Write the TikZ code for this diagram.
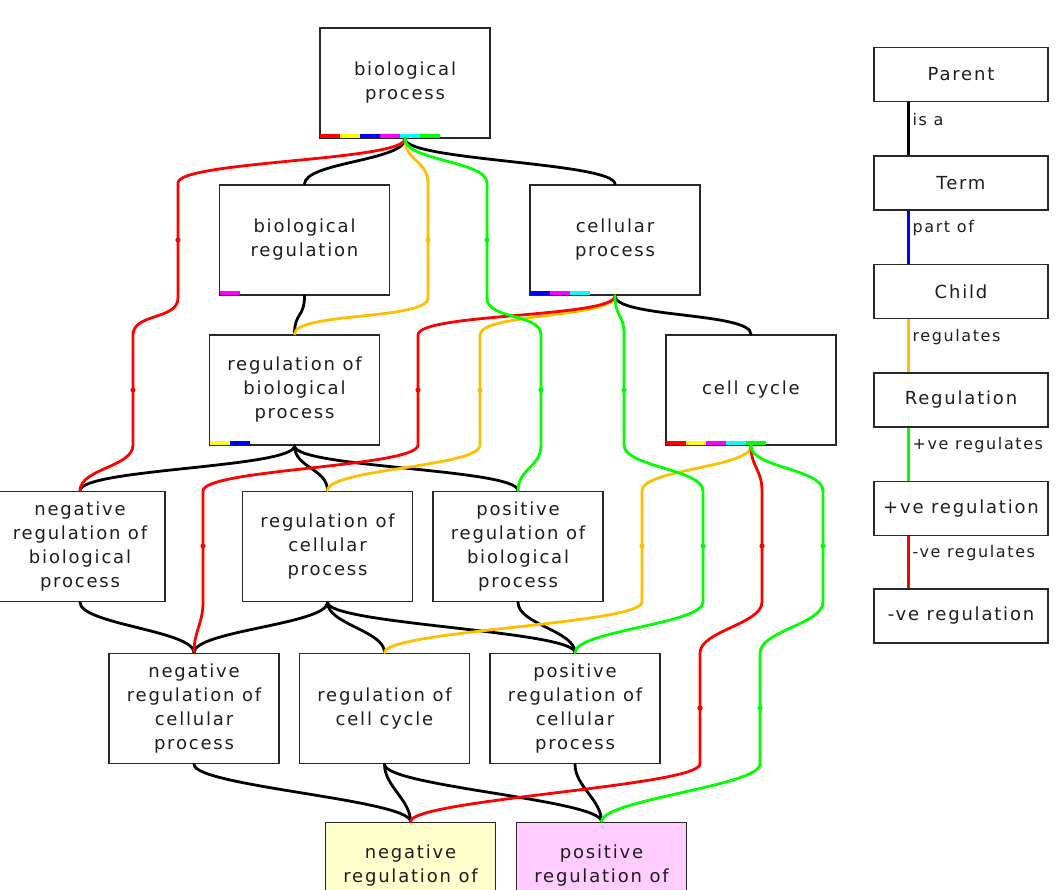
\documentclass[tikz,border=0pt]{standalone}
\usepackage{fontspec}
\setmainfont{DejaVu Sans}[LetterSpace=10]
\usetikzlibrary{calc}
\definecolor{regcol}{RGB}{255,190,0}
\definecolor{txt}{RGB}{30,30,30}
\definecolor{bord}{RGB}{40,40,40}
\definecolor{nfill}{RGB}{255,255,204}
\definecolor{pfill}{RGB}{255,204,255}
\definecolor{cR}{RGB}{255,0,0}
\definecolor{cY}{RGB}{255,255,0}
\definecolor{cB}{RGB}{0,0,255}
\definecolor{cM}{RGB}{255,0,255}
\definecolor{cC}{RGB}{0,255,255}
\definecolor{cG}{RGB}{0,255,0}
\newcommand\colbar[2]{\foreach \barcol [count=\bi from 0] in {#2} {\fill[\barcol] ($(#1.south west)+(1+20*\bi,-1)$) rectangle ++(20,-4);}}
\begin{document}
\begin{tikzpicture}[x=1pt,y=-1pt,
  term/.style={draw=bord, line width=1.6, fill=white, minimum width=170, minimum height=110, align=center, inner sep=0, text=txt, font=\fontsize{18}{24}\selectfont},
  leg/.style={term, minimum width=174, minimum height=54},
  e/.style={line width=2.8, line cap=round},
  lbl/.style={text=txt, font=\fontsize{16}{20}\selectfont, inner sep=3},
  sc/.style={to path={.. controls +(0,22) and +(0,-22) .. (\tikztotarget)}}
]
\useasboundingbox (0,0) rectangle (1057,890);
% ranks
\node[term] (bp)   at (405,83)    {biological\\process};
\node[term] (br)   at (304.5,240) {biological\\regulation};
\node[term] (cp)   at (615,240)   {cellular\\process};
\node[term] (rbp)  at (294.5,390) {regulation of\\biological\\process};
\node[term] (cc)   at (751,390)   {cell cycle};
\node[term] (nrbp) at (80,546.5)  {negative\\regulation of\\biological\\process};
\node[term] (rcp)  at (327.5,546.5) {regulation of\\cellular\\process};
\node[term] (prbp) at (518,546.5) {positive\\regulation of\\biological\\process};
\node[term] (nrcp) at (194,708.5) {negative\\regulation of\\cellular\\process};
\node[term] (rcc)  at (384.5,708.5) {regulation of\\cell cycle};
\node[term] (prcp) at (575,708.5) {positive\\regulation of\\cellular\\process};
\node[term, fill=nfill] (nrcc) at (410.5,877.5) {negative\\regulation of\\\phantom{cell cycle}};
\node[term, fill=pfill] (prcc) at (601.5,877.5) {positive\\regulation of\\\phantom{cell cycle}};
% colour bars
\colbar{bp}{cR,cY,cB,cM,cC,cG}
\colbar{br}{cM}
\colbar{cp}{cB,cM,cC}
\colbar{rbp}{cY,cB}
\colbar{cc}{cR,cY,cM,cC,cG}
% black is_a edges
\draw[e] (bp.south) to[sc] (br.north);
\draw[e] (bp.south) to[sc] (cp.north);
\draw[e] (br.south) to[sc] (rbp.north);
\draw[e] (cp.south) to[sc] (cc.north);
\draw[e] (rbp.south) to[sc] (nrbp.north);
\draw[e] (rbp.south) to[sc] (rcp.north);
\draw[e] (rbp.south) to[sc] (prbp.north);
\draw[e] (nrbp.south) to[sc] (nrcp.north);
\draw[e] (rcp.south) to[sc] (nrcp.north);
\draw[e] (rcp.south) to[sc] (rcc.north);
\draw[e] (rcp.south) to[sc] (prcp.north);
\draw[e] (prbp.south) to[sc] (prcp.north);
\draw[e] (nrcp.south) to[sc] (nrcc.north);
\draw[e] (rcc.south) to[sc] (nrcc.north);
\draw[e] (rcc.south) to[sc] (prcc.north);
\draw[e] (prcp.south) to[sc] (prcc.north);
% regulates edges
\draw[e, regcol] (bp.south) to[sc] (428,183) -- (428,298) to[sc] (rbp.north);
\draw[e, regcol] (cp.south) to[sc] (480,335) -- (480,445) to[sc] (rcp.north);
\draw[e, regcol] (cc.south) to[sc] (642,491) -- (642,602) to[sc] (rcc.north);
% negatively regulates
\draw[e, cR] (bp.south) to[sc] (178,183) -- (178,298) to[sc] (133,335) -- (133,445) to[sc] (nrbp.north);
\draw[e, cR] (cp.south) to[sc] (418,335) -- (418,445) to[sc] (203,491) -- (203,602) to[sc] (nrcp.north);
\draw[e, cR] (cc.south) to[sc] (762,491) -- (762,602) to[sc] (700,653) -- (700,764) to[sc] (nrcc.north);
% positively regulates
\draw[e, cG] (bp.south) to[sc] (487,183) -- (487,298) to[sc] (541,335) -- (541,445) to[sc] (prbp.north);
\draw[e, cG] (cp.south) to[sc] (624,335) -- (624,445) to[sc] (703,491) -- (703,602) to[sc] (prcp.north);
\draw[e, cG] (cc.south) to[sc] (823,491) -- (823,602) to[sc] (760,653) -- (760,764) to[sc] (prcc.north);
% small marks
\foreach \px/\py/\pc in {178/240/cR,133/390/cR,428/240/regcol,487/240/cG,541/390/cG,418/390/cR,203/546/cR,480/390/regcol,624/390/cG,703/546/cG,642/546/regcol,762/546/cR,700/708/cR,823/546/cG,760/708/cG}
  \fill[\pc] (\px,\py) circle (2.6);
% legend
\node[leg] (lp) at (961,74.5) {Parent};
\node[leg] (lt) at (961,183) {Term};
\node[leg] (lc) at (961,291.5) {Child};
\node[leg] (lr) at (961,400) {Regulation};
\node[leg] (lpr) at (961,508.5) {+ve regulation};
\node[leg] (lnr) at (961,616) {-ve regulation};
\draw[e, line cap=butt] ($(lp.south west)+(35,0)$) -- node[lbl, pos=0.33, right] {is a} ($(lt.north west)+(35,0)$);
\draw[e, line cap=butt, cB] ($(lt.south west)+(35,0)$) -- node[lbl, pos=0.33, right] {part of} ($(lc.north west)+(35,0)$);
\draw[e, line cap=butt, regcol] ($(lc.south west)+(35,0)$) -- node[lbl, pos=0.33, right] {regulates} ($(lr.north west)+(35,0)$);
\draw[e, line cap=butt, cG] ($(lr.south west)+(35,0)$) -- node[lbl, pos=0.33, right] {+ve regulates} ($(lpr.north west)+(35,0)$);
\draw[e, line cap=butt, cR] ($(lpr.south west)+(35,0)$) -- node[lbl, pos=0.33, right] {-ve regulates} ($(lnr.north west)+(35,0)$);
\end{tikzpicture}
\end{document}
